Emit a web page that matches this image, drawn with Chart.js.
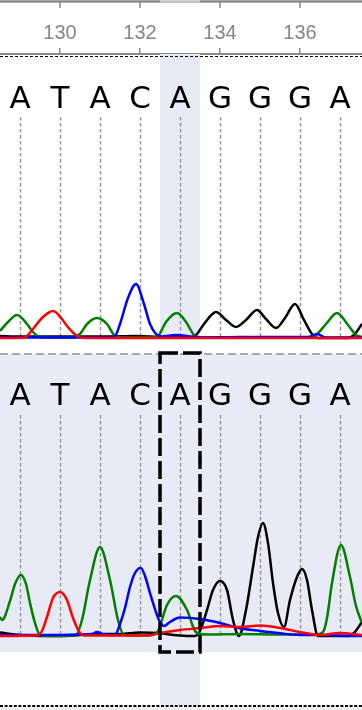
<!DOCTYPE html>
<html><head><meta charset="utf-8">
<script src="https://cdn.jsdelivr.net/npm/chart.js@4"></script>
<style>html,body{margin:0;padding:0;background:#fff;overflow:hidden}#wrap{position:relative;width:362px;height:710px}</style>
</head><body><div id="wrap"><canvas id="c" width="362" height="710"></canvas></div>
<script>
// ---- data ----
const tickValues = [130, 132, 134, 136];
const basePositions = [129, 130, 131, 132, 133, 134, 135, 136, 137];
const topBases = ['A','T','A','C','A','G','G','G','A'];
const bottomBases = ['A','T','A','C','A','G','G','G','A'];
const highlightPos = 133;

// top (reference) trace
const topGreenX = [128.5,128.7,128.925,129.175,129.325,129.5,129.7,130.3,130.5,130.675,130.925,131.175,131.375,131.55,132.3,132.45,132.65,132.925,133.15,133.35,133.5,134.5,135.5,136.2,136.4,136.65,136.925,137.2,137.4,137.55];
const topGreenY = [7,16,23,14,6,1,0.5,0.5,4,14,20,14,2,0.5,0.5,2,16,25,16,3,0.5,1,0.5,0.5,3,14,25,13,3,1];
const topRedX = [128.5,129.1,129.2,129.325,129.575,129.825,130.05,130.175,130.425,130.55,131.0,137.55];
const topRedY = [0,0.2,3,9,21,27,19,12,2,0.3,0,0];
const topBlueX = [128.5,131.2,131.375,131.5,131.7,131.9,132.1,132.25,132.4,132.55,132.9,133.25,133.6,135.0,136.2,136.425,136.65,137.55];
const topBlueY = [0.5,0.5,2,14,40,54,34,14,4,1.5,3,1.5,0.5,1,1,4,0.5,0.5];
const topBlackX = [128.5,129.0,130.0,131.0,131.9,132.5,133.2,133.4,133.6,133.9,134.15,134.4,134.65,134.925,135.15,135.4,135.625,135.875,136.1,136.3,136.45,137.2,137.35,137.55];
const topBlackY = [2,1.5,1.5,1.5,2,1,0.5,3,14,26,18,11,18,28,19,10,20,34,18,4,0,0,3,14];

// bottom (sample) trace
const botGreenX = [128.5,128.55,128.75,128.875,129.02,129.15,129.25,129.375,129.5,129.8,130.4,130.55,130.75,131.0,131.25,131.45,131.6,132.0,132.3,132.45,132.675,132.9,133.175,133.375,133.5,133.75,134.5,135.5,136.4,136.575,136.675,136.8,137.025,137.25,137.4,137.55];
const botGreenY = [19,16,35,52,61,52,33,13,1,0,1,16,56,89,56,16,1,0.5,1,5,31,40,26,5,2,1.5,2,1.5,1.5,4,18,53,91,59,30,13];
const botRedX = [128.5,129.425,129.55,129.675,129.825,130.0,130.175,130.325,130.5,130.6,132.2,132.5,133.0,133.5,134.0,134.5,135.0,135.5,136.0,136.5,137.0,137.55];
const botRedY = [0,0.5,5,19,38,44,36,18,3,0.5,0.5,3,6,8,10,9,10.5,8,4,1,3,1];
const botBlueX = [128.5,129.5,130.5,130.8,130.925,131.1,131.375,131.5,131.625,131.75,131.875,132.02,132.125,132.25,132.425,132.5,132.6,132.75,133.0,133.5,134.0,134.5,135.0,135.5,136.0,136.5,137.0,137.55];
const botBlueY = [1,1,1.5,2,4,1.5,1,12,28,49,63,68,60,43,21,14,10,14,18.5,17,13,7.7,5,2.7,1,1,0.3,0];
const botBlackX = [128.5,129.0,129.5,130.0,130.5,131.0,131.5,132.0,132.45,132.75,133.0,133.375,133.5,133.675,133.825,134.0,134.175,134.325,134.475,134.65,134.825,134.95,135.075,135.2,135.325,135.45,135.6,135.75,135.925,136.05,136.175,136.3,136.45,137.2,137.35,137.55];
const botBlackY = [3.5,1,0,0,1,2,2,3.5,3,1.5,0.5,0,5,26,46,55,46,16,0,26,69,99,113,93,53,23,9,36,59,67,56,26,0,0,3,14];

// ---- chart ----
const pts = (xs, ys) => xs.map((x, i) => ({x, y: ys[i]}));
const LAV = '#e8eaf6';
const GREEN = '#008000', RED = '#ff0000', BLUE = '#0000ff', BLACK = '#000000';

function ds(xs, ys, color, axis, order) {
  return {data: pts(xs, ys), borderColor: color, borderWidth: 2.5, pointRadius: 0,
          cubicInterpolationMode: 'monotone', fill: false, yAxisID: axis, xAxisID: 'x', order};
}

const deco = {
  id: 'deco',
  beforeDatasetsDraw(chart) {
    const {ctx, chartArea: ca, scales: {x, yT, yB}} = chart;
    const h0 = x.getPixelForValue(highlightPos - 0.5), h1 = x.getPixelForValue(highlightPos + 0.5);
    const tb = yT.getPixelForValue(0), bb = yB.getPixelForValue(0);
    ctx.save();
    ctx.fillStyle = LAV;
    ctx.fillRect(h0, ca.top, h1 - h0, tb + 1 - ca.top);
    ctx.fillRect(ca.left, 354, ca.right - ca.left, 652 - 354);
    ctx.fillRect(h0, 652, h1 - h0, 706 - 652);
    ctx.fillStyle = '#eeeeee';
    ctx.fillRect(ca.left, 707.5, ca.right - ca.left, 3);
    // base position guides
    ctx.strokeStyle = '#999999'; ctx.lineWidth = 1.5; ctx.setLineDash([3.5, 2.5]);
    basePositions.forEach(p => {
      const px = Math.round(x.getPixelForValue(p)) + 0.5;
      ctx.beginPath(); ctx.moveTo(px, 117); ctx.lineTo(px, tb); ctx.stroke();
      ctx.beginPath(); ctx.moveTo(px, 415); ctx.lineTo(px, bb); ctx.stroke();
    });
    ctx.setLineDash([]);
    // base calls
    ctx.fillStyle = '#000'; ctx.font = '31px "DejaVu Sans"';
    ctx.textAlign = 'center'; ctx.textBaseline = 'alphabetic';
    basePositions.forEach((p, i) => {
      const px = x.getPixelForValue(p);
      ctx.fillText(topBases[i], px, 107.5);
      ctx.fillText(bottomBases[i], px, 405);
    });
    ctx.restore();
  },
  afterDatasetsDraw(chart) {
    const {ctx, chartArea: ca, scales: {x}} = chart;
    const h0 = x.getPixelForValue(highlightPos - 0.5), h1 = x.getPixelForValue(highlightPos + 0.5);
    ctx.save();
    // separator
    ctx.strokeStyle = '#a8a8a8'; ctx.lineWidth = 2; ctx.setLineDash([8, 4]);
    ctx.beginPath(); ctx.moveTo(ca.left, 354); ctx.lineTo(ca.right, 354); ctx.stroke();
    // dashed rectangle
    ctx.strokeStyle = '#000'; ctx.lineWidth = 3.5; ctx.setLineDash([18, 5]);
    ctx.strokeRect(h0, 353, h1 - h0, 652 - 353);
    // dashed line under axis
    ctx.lineWidth = 1; ctx.setLineDash([3, 2]);
    ctx.beginPath(); ctx.moveTo(ca.left, 56.5); ctx.lineTo(ca.right, 56.5); ctx.stroke();
    // bottom dotted line
    ctx.lineWidth = 2; ctx.setLineDash([3, 1.6]);
    ctx.beginPath(); ctx.moveTo(ca.left, 706); ctx.lineTo(ca.right, 706); ctx.stroke();
    ctx.restore();
  },
  afterDraw(chart) {
    const {ctx, scales: {x}} = chart;
    const h0 = x.getPixelForValue(highlightPos - 0.5), h1 = x.getPixelForValue(highlightPos + 0.5);
    ctx.save();
    ctx.strokeStyle = '#8a8a8a'; ctx.lineWidth = 2.5;
    ctx.beginPath(); ctx.moveTo(0, 1.5); ctx.lineTo(chart.width, 1.5); ctx.stroke();
    ctx.lineWidth = 1.5;
    tickValues.forEach(v => {
      const px = x.getPixelForValue(v);
      ctx.beginPath(); ctx.moveTo(px, 2); ctx.lineTo(px, 8); ctx.stroke();
    });
    ctx.fillStyle = 'rgba(255,255,255,0.5)';
    ctx.fillRect(h0, 0, h1 - h0, 2.5);
    ctx.restore();
  }
};

new Chart(document.getElementById('c'), {
  type: 'line',
  data: {datasets: [
    ds(topBlackX, topBlackY, BLACK, 'yT', 3),
    ds(topGreenX, topGreenY, GREEN, 'yT', 2),
    ds(topBlueX, topBlueY, BLUE, 'yT', 1),
    ds(topRedX, topRedY, RED, 'yT', 0),
    ds(botBlackX, botBlackY, BLACK, 'yB', 3),
    ds(botGreenX, botGreenY, GREEN, 'yB', 2),
    ds(botBlueX, botBlueY, BLUE, 'yB', 1),
    ds(botRedX, botRedY, RED, 'yB', 0)
  ]},
  options: {
    responsive: false, devicePixelRatio: 1, animation: false,
    layout: {padding: 0},
    plugins: {legend: {display: false}, tooltip: {enabled: false}},
    scales: {
      x: {
        type: 'linear', position: 'top', min: 128.5, max: 137.55,
        afterBuildTicks: s => { s.ticks = tickValues.map(v => ({value: v})); },
        afterFit: s => { s.height = 54; },
        ticks: {color: '#858585', font: {family: '"Liberation Sans", Arial', size: 20}, padding: 3,
                maxRotation: 0, autoSkip: false, callback: v => String(v)},
        grid: {drawOnChartArea: false, drawTicks: true, tickLength: 6, color: '#8a8a8a', lineWidth: 1.5},
        border: {display: true, color: '#8a8a8a', width: 2}
      },
      yT: {display: false, min: -372, max: 284},
      yB: {display: false, min: -74, max: 582}
    }
  },
  plugins: [deco]
});
</script></body></html>
